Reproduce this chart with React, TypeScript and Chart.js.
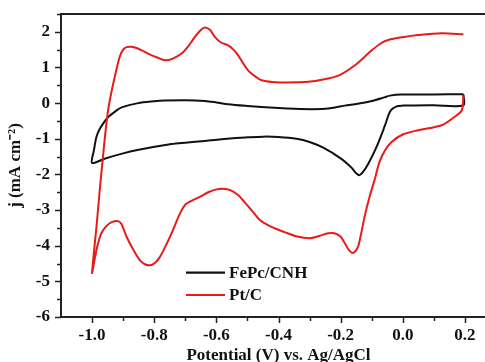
import React, { useEffect, useRef } from 'react';
import { Chart, registerables } from 'chart.js';

Chart.register(...registerables);

// ---------- data ----------
const seriesLabels = ['FePc/CNH', 'Pt/C'];
const seriesColors = ['#111111', '#e81a1a'];

const fePcX = [
  0.195, 0.195, 0.1, 0.0, -0.02, -0.04, -0.057, -0.084, -0.111, -0.128, -0.14, -0.152, -0.165, -0.2,
  -0.256, -0.3, -0.342, -0.4, -0.449, -0.5, -0.556, -0.637, -0.7, -0.744, -0.85, -0.9, -0.96, -1.0,
  -0.994, -0.986, -0.975, -0.96, -0.948, -0.925, -0.905, -0.852, -0.8, -0.766, -0.7, -0.637, -0.6,
  -0.562, -0.5, -0.454, -0.4, -0.347, -0.293, -0.25, -0.218, -0.186, -0.154, -0.1, -0.06, -0.041,
  -0.004, 0.1, 0.195,
];
const fePcY = [
  0.25, -0.06, -0.06, -0.07, -0.09, -0.22, -0.62, -1.22, -1.7, -1.93, -2.02, -1.95, -1.81, -1.55,
  -1.25, -1.09, -1.0, -0.95, -0.94, -0.96, -0.99, -1.06, -1.11, -1.15, -1.31, -1.41, -1.56, -1.68,
  -1.32, -0.95, -0.72, -0.52, -0.39, -0.23, -0.12, 0.0, 0.05, 0.07, 0.08, 0.06, 0.02,
  -0.03, -0.08, -0.11, -0.14, -0.16, -0.17, -0.16, -0.12, -0.07, -0.03, 0.06, 0.16, 0.21,
  0.24, 0.245, 0.25,
];

const ptX = [
  0.195, 0.19, 0.166, 0.125, 0.05, 0.0, -0.036, -0.057, -0.075, -0.089, -0.106, -0.122, -0.135, -0.145,
  -0.159, -0.172, -0.185, -0.2, -0.22, -0.24, -0.27, -0.3, -0.34, -0.38, -0.428, -0.46, -0.487, -0.51,
  -0.53, -0.555, -0.58, -0.6, -0.626, -0.653, -0.68, -0.7, -0.72, -0.739, -0.76, -0.782, -0.8, -0.814,
  -0.83, -0.846, -0.865, -0.889, -0.905, -0.916, -0.935, -0.954, -0.97, -0.981, -0.99, -1.0,
  -0.984, -0.976, -0.966, -0.958, -0.95, -0.943, -0.927, -0.911, -0.9, -0.889, -0.875, -0.862, -0.84,
  -0.82, -0.79, -0.766, -0.74, -0.712, -0.69, -0.669, -0.65, -0.637, -0.62, -0.605, -0.585, -0.562,
  -0.545, -0.53, -0.498, -0.47, -0.454, -0.42, -0.39, -0.304, -0.24, -0.2, -0.154, -0.1, -0.07,
  -0.047, 0.0, 0.05, 0.125, 0.195,
];
const ptY = [
  0.22, -0.2, -0.39, -0.62, -0.76, -0.88, -1.09, -1.32, -1.65, -2.1, -2.6, -3.15, -3.7, -4.05,
  -4.2, -4.14, -3.95, -3.75, -3.65, -3.65, -3.73, -3.79, -3.74, -3.62, -3.45, -3.28, -3.0, -2.77,
  -2.58, -2.44, -2.4, -2.42, -2.5, -2.63, -2.74, -2.85, -3.15, -3.55, -3.95, -4.32, -4.5, -4.55,
  -4.52, -4.41, -4.15, -3.75, -3.4, -3.31, -3.33, -3.45, -3.65, -3.94, -4.3, -4.76,
  -3.3, -2.5, -1.6, -0.9, -0.3, 0.08, 0.74, 1.3, 1.5, 1.57, 1.58, 1.56, 1.48,
  1.39, 1.28, 1.2, 1.25, 1.39, 1.6, 1.86, 2.05, 2.12, 2.05, 1.86, 1.7, 1.62,
  1.5, 1.34, 0.92, 0.72, 0.64, 0.59, 0.58, 0.6, 0.69, 0.8, 1.06, 1.48, 1.68,
  1.77, 1.85, 1.91, 1.96, 1.93,
];

const xMajorTicks = [-1.0, -0.8, -0.6, -0.4, -0.2, 0.0, 0.2];
const xMinorTicks = [-0.9, -0.7, -0.5, -0.3, -0.1, 0.1, 0.3];
const yMajorTicks = [-6, -5, -4, -3, -2, -1, 0, 1, 2];
const yMinorTicks = [-5.5, -4.5, -3.5, -2.5, -1.5, -0.5, 0.5, 1.5, 2.5];

const xTitle = 'Potential (V) vs. Ag/AgCl';
const yTitle = 'j (mA cm⁻²)';

// ---------- styling ----------
const FONT = "'Liberation Serif', 'Times New Roman', serif";
const AXIS = '#222222';
const TEXT = '#111111';
const CW = 512;
const CH = 366;
const VIEW_W = 485;

const decorPlugin = {
  id: 'decor',
  afterDraw(chart: any) {
    const { ctx, chartArea: a, scales } = chart;
    const xs = scales.x;
    const ys = scales.y;
    ctx.save();
    ctx.strokeStyle = AXIS;
    ctx.lineWidth = 2;
    ctx.beginPath();
    ctx.moveTo(a.left - 1, a.top);
    ctx.lineTo(a.right, a.top);
    ctx.stroke();

    ctx.lineWidth = 1.5;
    const xt = (v: number, len: number) => {
      const p = Math.round(xs.getPixelForValue(v)) + 0.5;
      ctx.beginPath();
      ctx.moveTo(p, a.bottom);
      ctx.lineTo(p, a.bottom + len);
      ctx.stroke();
    };
    const yt = (v: number, len: number) => {
      const p = Math.round(ys.getPixelForValue(v)) + 0.5;
      ctx.beginPath();
      ctx.moveTo(a.left, p);
      ctx.lineTo(a.left - len, p);
      ctx.stroke();
    };
    xMajorTicks.forEach((v) => xt(v, 6));
    xMinorTicks.forEach((v) => xt(v, 4));
    yMajorTicks.forEach((v) => yt(v, 6));
    yMinorTicks.forEach((v) => yt(v, 4));

    // legend inside plot
    const lx0 = a.left + 125;
    const lx1 = a.left + 164;
    const rows = [a.top + 258.7, a.top + 281];
    ctx.font = `bold 17px ${FONT}`;
    ctx.textBaseline = 'middle';
    ctx.textAlign = 'left';
    chart.data.datasets.forEach((ds: any, i: number) => {
      const yy = rows[i];
      ctx.strokeStyle = ds.borderColor;
      ctx.lineWidth = 2.2;
      ctx.beginPath();
      ctx.moveTo(lx0, yy);
      ctx.lineTo(lx1, yy);
      ctx.stroke();
      ctx.fillStyle = TEXT;
      ctx.fillText(ds.label, lx1 + 4, yy + 1);
    });
    ctx.restore();
  },
};

export default function App() {
  const ref = useRef<HTMLCanvasElement | null>(null);

  useEffect(() => {
    if (!ref.current) return;
    const mk = (xsArr: number[], ysArr: number[]) => xsArr.map((x, i) => ({ x, y: ysArr[i] }));
    const chart = new Chart(ref.current, {
      type: 'scatter',
      data: {
        datasets: [
          {
            label: seriesLabels[0],
            data: mk(fePcX, fePcY),
            borderColor: seriesColors[0],
            backgroundColor: seriesColors[0],
            showLine: true,
            pointRadius: 0,
            borderWidth: 2,
            tension: 0.3,
            order: 1,
          },
          {
            label: seriesLabels[1],
            data: mk(ptX, ptY),
            borderColor: seriesColors[1],
            backgroundColor: seriesColors[1],
            showLine: true,
            pointRadius: 0,
            borderWidth: 2,
            tension: 0.3,
            order: 0,
          },
        ],
      },
      options: {
        animation: false,
        responsive: false,
        maintainAspectRatio: false,
        devicePixelRatio: 1,
        layout: { autoPadding: false, padding: { left: 0, top: 14, right: CW - 496, bottom: 0 } },
        plugins: { legend: { display: false }, tooltip: { enabled: false } },
        scales: {
          x: {
            type: 'linear',
            min: -1.1,
            max: 0.3,
            afterBuildTicks: (s: any) => {
              s.ticks = xMajorTicks.map((v) => ({ value: v }));
            },
            afterFit: (s: any) => {
              s.height = CH - 317;
            },
            grid: { display: false, drawTicks: true, tickLength: 8 },
            border: { display: true, color: AXIS, width: 2 },
            ticks: {
              autoSkip: false,
              maxRotation: 0,
              padding: 0,
              color: TEXT,
              font: { family: FONT, size: 17, weight: 'bold' },
              callback: (v: any) => (Math.abs(v) < 1e-9 ? '0.0' : Number(v).toFixed(1)),
            },
            title: {
              display: true,
              text: xTitle,
              color: TEXT,
              font: { family: FONT, size: 17, weight: 'bold', lineHeight: 1 },
              padding: { top: 0, bottom: 2 },
            },
          },
          y: {
            type: 'linear',
            min: -6,
            max: 2.5,
            afterBuildTicks: (s: any) => {
              s.ticks = yMajorTicks.map((v) => ({ value: v }));
            },
            afterFit: (s: any) => {
              s.width = 61;
            },
            grid: { display: false, drawTicks: true, tickLength: 11 },
            border: { display: true, color: AXIS, width: 2 },
            ticks: {
              autoSkip: false,
              padding: 0,
              color: TEXT,
              font: { family: FONT, size: 17, weight: 'bold' },
              callback: (v: any) => String(Math.round(Number(v))),
            },
            title: {
              display: true,
              text: yTitle,
              color: TEXT,
              font: { family: FONT, size: 17, weight: 'bold', lineHeight: 1 },
              padding: { top: 7, bottom: 0 },
            },
          },
        },
      },
      plugins: [decorPlugin],
    } as any);
    return () => chart.destroy();
  }, []);

  return (
    <div
      style={{
        position: 'fixed',
        left: 0,
        top: 0,
        width: VIEW_W,
        height: 362,
        overflow: 'hidden',
        background: '#fff',
      }}
    >
      <canvas ref={ref} width={CW} height={CH} style={{ width: CW, height: CH, display: 'block' }} />
    </div>
  );
}
